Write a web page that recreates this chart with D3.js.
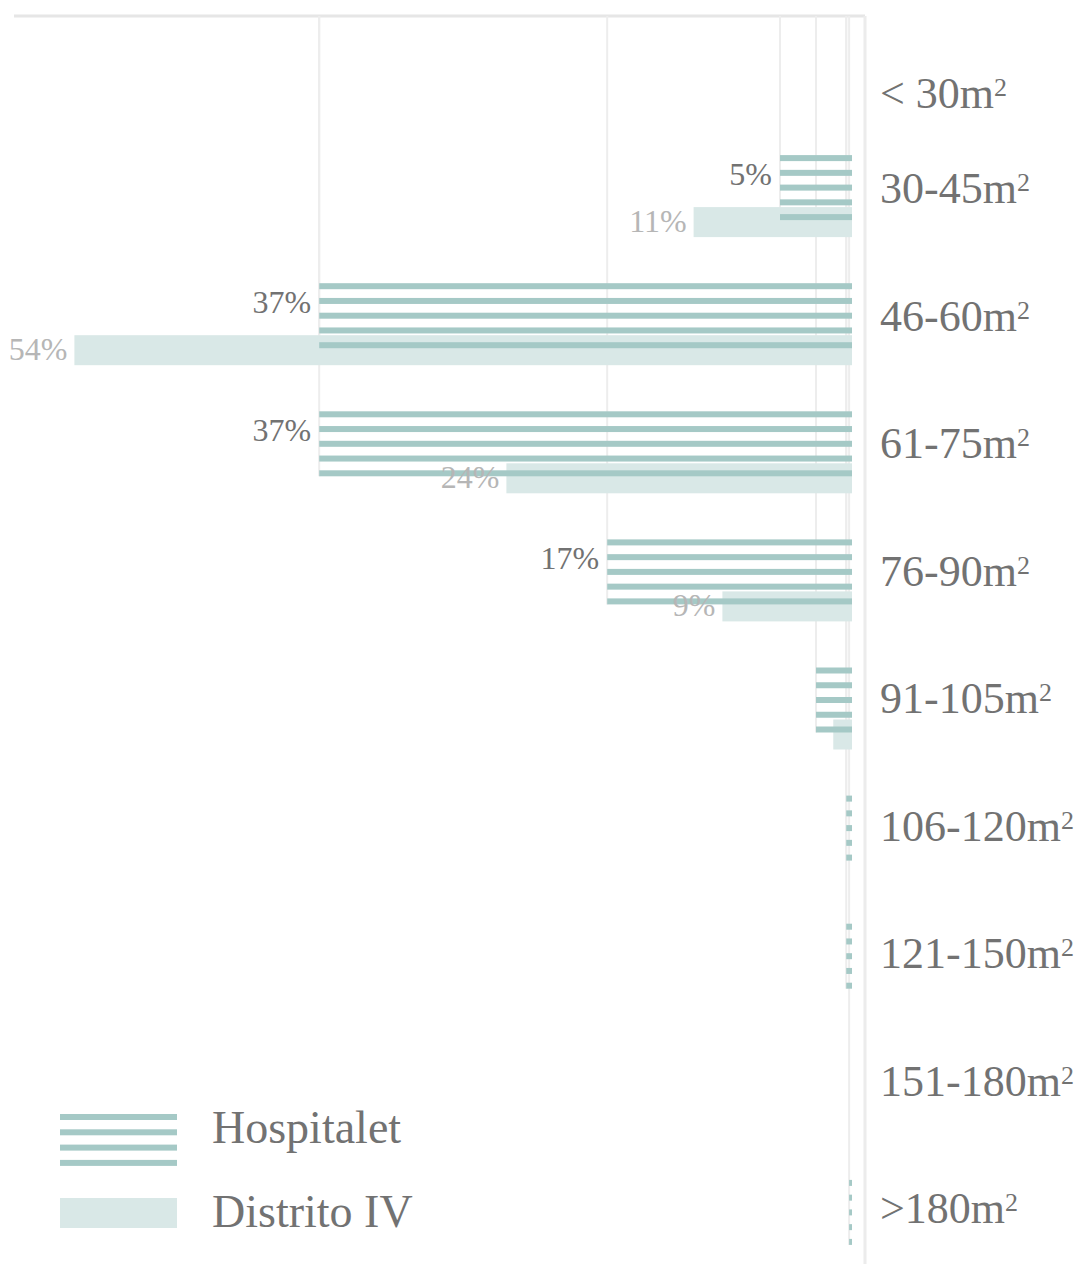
<!DOCTYPE html>
<html>
<head>
<meta charset="utf-8">
<script src="https://cdn.jsdelivr.net/npm/d3@7"></script>
<style>
  html, body { margin: 0; padding: 0; background: #ffffff; }
  svg { display: block; }
</style>
</head>
<body>
<div id="chart"></div>
<script>
// ---- data ----
const categories = ["< 30", "30-45", "46-60", "61-75", "76-90", "91-105", "106-120", "121-150", "151-180", ">180"];
const hospitalet = [0, 5, 37, 37, 17, 2.5, 0.4, 0.4, 0, 0.2];
const distritoIV = [0, 11, 54, 24, 9, 1.3, 0, 0, 0, 0];
const seriesNames = ["Hospitalet", "Distrito IV"];
const unitLabel = "m";
const unitSup = "2";

// ---- setup ----
const W = 1090, H = 1264;
const colStripe = "#a5c9c6";
const colFill = "#d9e8e7";
const colText = "#727272";
const colTextLight = "#b6b6b6";
const colGrid = "#ededed";
const font = "'Liberation Serif', 'Times New Roman', serif";

const svg = d3.select("#chart").append("svg")
  .attr("width", W).attr("height", H);

const x = d3.scaleLinear().domain([0, 55]).range([852, 60]);
const y = d3.scaleBand().domain(categories).range([27, 27 + 128.1 * categories.length]);
const yLabel = d3.scaleLinear().domain([0, 1, categories.length - 1]).range([93, 188, 1208]);

const rows = categories.map((c, i) => ({ cat: c, i, h: hospitalet[i], d: distritoIV[i] }));

const stripeN = 5, stripeStep = 14.75, stripeH = 6;
const dOffset = 52, dH = 30;
const topY = 16, frameX = 865;

// frame lines
svg.append("line")
  .attr("x1", 14).attr("x2", frameX).attr("y1", topY).attr("y2", topY)
  .attr("stroke", "#e6e6e6").attr("stroke-width", 3);
svg.append("line")
  .attr("x1", frameX).attr("x2", frameX).attr("y1", topY).attr("y2", H)
  .attr("stroke", "#ececec").attr("stroke-width", 3);

// drop lines from the top to each Hospitalet bar end
svg.append("g").selectAll("line")
  .data(rows.filter(r => r.h > 0))
  .join("line")
  .attr("x1", r => x(r.h)).attr("x2", r => x(r.h))
  .attr("y1", topY).attr("y2", r => y(r.cat) + (stripeN - 1) * stripeStep + stripeH)
  .attr("stroke", colGrid).attr("stroke-width", 2);

// Distrito IV bars
svg.append("g").selectAll("rect")
  .data(rows.filter(r => r.d > 0))
  .join("rect")
  .attr("x", r => x(r.d))
  .attr("width", r => x(0) - x(r.d))
  .attr("y", r => y(r.cat) + dOffset)
  .attr("height", dH)
  .attr("fill", colFill);

// Hospitalet striped bars
const hg = svg.append("g").selectAll("g")
  .data(rows.filter(r => r.h > 0))
  .join("g");
hg.selectAll("rect")
  .data(r => d3.range(stripeN).map(k => ({ r, k })))
  .join("rect")
  .attr("x", o => x(o.r.h))
  .attr("width", o => x(0) - x(o.r.h))
  .attr("y", o => y(o.r.cat) + o.k * stripeStep)
  .attr("height", stripeH)
  .attr("fill", colStripe);

// value labels
svg.append("g").selectAll("text")
  .data(rows.filter(r => r.h >= 5))
  .join("text")
  .attr("x", r => x(r.h) - 8)
  .attr("y", r => y(r.cat) + 30)
  .attr("text-anchor", "end")
  .attr("font-family", font).attr("font-size", 32)
  .attr("fill", colText)
  .text(r => d3.format("d")(r.h) + "%");

svg.append("g").selectAll("text")
  .data(rows.filter(r => r.d >= 5))
  .join("text")
  .attr("x", r => x(r.d) - 7)
  .attr("y", r => y(r.cat) + dOffset + 25)
  .attr("text-anchor", "end")
  .attr("font-family", font).attr("font-size", 32)
  .attr("fill", colTextLight)
  .text(r => d3.format("d")(r.d) + "%");

// category labels
const cl = svg.append("g").selectAll("text")
  .data(rows)
  .join("text")
  .attr("x", 880)
  .attr("y", r => yLabel(r.i) + 15)
  .attr("font-family", font).attr("font-size", 44)
  .attr("fill", colText);
cl.append("tspan").text(r => r.cat + unitLabel);
cl.append("tspan").attr("font-size", 26).attr("dy", -12).text(unitSup);

// legend
const lg = svg.append("g");
lg.selectAll("rect.s")
  .data(d3.range(4))
  .join("rect")
  .attr("class", "s")
  .attr("x", 60).attr("width", 117)
  .attr("y", k => 1114 + k * 15.3).attr("height", 6)
  .attr("fill", colStripe);
lg.append("rect")
  .attr("x", 60).attr("width", 117)
  .attr("y", 1198).attr("height", 30)
  .attr("fill", colFill);
lg.selectAll("text")
  .data(seriesNames)
  .join("text")
  .attr("x", 212)
  .attr("y", (d, i) => i === 0 ? 1143 : 1227)
  .attr("font-family", font).attr("font-size", 46)
  .attr("fill", colText)
  .text(d => d);
</script>
</body>
</html>
